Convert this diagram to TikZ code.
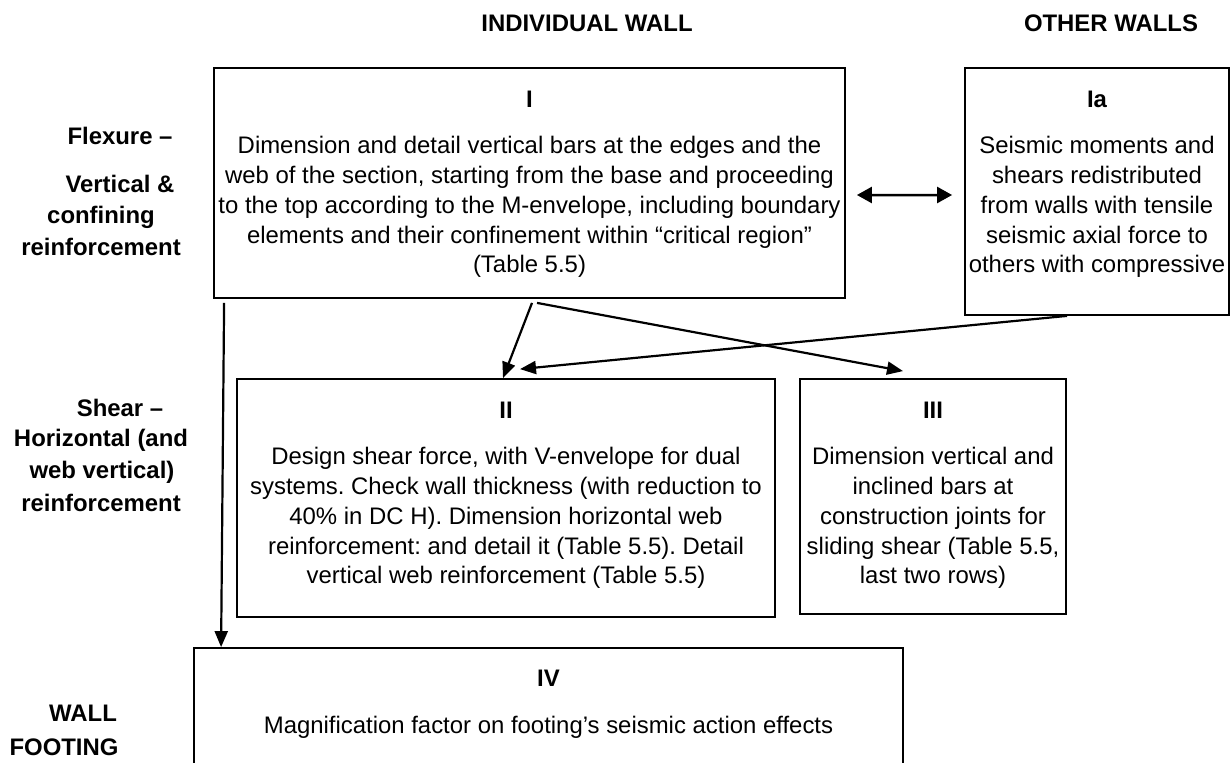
\documentclass[tikz,border=0pt]{standalone}
\usepackage{fontspec}
\setmainfont{Liberation Sans}
\usetikzlibrary{arrows.meta,calc}
\frenchspacing
\begin{document}
\begin{tikzpicture}[x=1bp,y=-1bp,
  box/.style={draw,line width=1.8bp,rectangle,inner sep=0pt},
  txt/.style={font=\fontsize{24}{30}\selectfont,align=center,inner sep=0pt},
  lbl/.style={font=\fontsize{24}{30}\selectfont\bfseries,inner sep=0pt},
  arr/.style={line width=2.2bp,-{Triangle[length=16bp,width=13bp]}},
  darr/.style={line width=2.5bp,{Triangle[length=15bp,width=16bp]}-{Triangle[length=15bp,width=16bp]}}
]
\useasboundingbox (0,0) rectangle (1232,763);
\clip (0,0) rectangle (1232,763);

% headers
\node[lbl] (h1) at (587,23) {INDIVIDUAL WALL};
\node[lbl] (h2) at (1111,23) {OTHER WALLS};

% row labels
\node[lbl] (l1) at (120,136) {Flexure –};
\node[lbl] (l2) at (120,184) {Vertical \&};
\node[lbl] (l3) at (101,217) {confining};
\node[lbl] (l4) at (101,247) {reinforcement};
\node[lbl] (l5) at (120,408) {Shear –};
\node[lbl] (l6) at (101,440) {Horizontal (and};
\node[lbl] (l7) at (102,472) {web vertical)};
\node[lbl] (l8) at (101,503) {reinforcement};
\node[lbl] (l9) at (83,713) {WALL};
\node[lbl] (l10) at (64,747) {FOOTING};

% boxes
\node[box,minimum width=631bp,minimum height=230bp] (b1) at (529.5,183) {};
\node[box,minimum width=264bp,minimum height=247bp] (b1a) at (1097,191.5) {};
\node[box,minimum width=538bp,minimum height=238bp] (b2) at (506,498) {};
\node[box,minimum width=266bp,minimum height=235bp] (b3) at (933,496.5) {};
\node[box,minimum width=709bp,minimum height=200bp] (b4) at (548.5,748) {};

% box texts
\node[lbl] (t1) at (529.5,99) {I};
\node[txt] (x1) at (529.5,207) {Dimension and detail vertical bars at the edges and the\\web of the section, starting from the base and proceeding\\to the top according to the M-envelope, including boundary\\elements and their confinement within “critical region”\\(Table 5.5)};

\node[lbl] (t1a) at (1097,99) {Ia};
\node[txt] (x1a) at (1097,207) {Seismic moments and\\shears redistributed\\from walls with tensile\\seismic axial force to\\others with compressive};

\node[lbl] (t2) at (506,410) {II};
\node[txt] (x2) at (506,518) {Design shear force, with V-envelope for dual\\systems. Check wall thickness (with reduction to\\40\% in DC H). Dimension horizontal web\\reinforcement: and detail it (Table 5.5). Detail\\vertical web reinforcement (Table 5.5)};

\node[lbl] (t3) at (933,410) {III};
\node[txt] (x3) at (933,518) {Dimension vertical and\\inclined bars at\\construction joints for\\sliding shear (Table 5.5,\\last two rows)};

\node[lbl] (t4) at (548.5,678) {IV};
\node[txt] (x4) at (548.5,727) {Magnification factor on footing’s seismic action effects};

% connectors
\draw[arr] ($(b1.south west)+(11,4)$) -- ($(b4.north west)+(28,0)$);
\draw[arr] ($(b1.south)+(2.5,4)$) -- ($(b2.north)+(-3,0)$);
\draw[arr] ($(b1.south)+(7.5,4)$) -- ($(b3.north)+(-30,-7)$);
\draw[arr] ($(b1a.south)+(-30,0)$) -- ($(b2.north)+(14,-9)$);
\draw[darr] ($(b1.east)+(11,12)$) -- ($(b1a.west)+(-12,3.5)$);
\end{tikzpicture}
\end{document}
